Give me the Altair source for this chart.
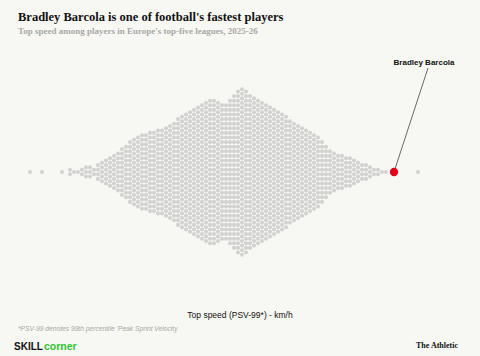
import altair as alt
import pandas as pd

# ---- data ----
speed_start = 26.0          # km/h, first column of the swarm
speed_step = 0.1            # km/h per column
player_counts = [1, 0, 0, 1, 0, 0, 0, 0, 1, 0,
                 2, 1, 1, 2, 3, 3, 2, 4, 5, 6,
                 7, 8, 9, 11, 12, 14, 15, 16, 17, 17,
                 18, 18, 19, 19, 20, 21, 22, 24, 25, 26,
                 27, 28, 29, 30, 31, 32, 32, 31, 30, 30,
                 32, 34, 36, 37, 36, 34, 33, 32, 31, 30,
                 29, 28, 27, 26, 25, 23, 22, 21, 20, 19,
                 18, 17, 16, 14, 12, 10, 9, 8, 8, 7,
                 7, 6, 5, 4, 4, 3, 2, 2, 1, 1,
                 0, 0, 0, 0, 0, 0, 0, 1]
highlight_name = ["Bradley Barcola"]
highlight_speed = [35.1]

title_text = "Bradley Barcola is one of football's fastest players"
subtitle_text = "Top speed among players in Europe's top-five leagues, 2025-26"
axis_title_text = "Top speed (PSV-99*) - km/h"
footnote_text = "*PSV-99 denotes 99th percentile 'Peak Sprint Velocity"
logo_left = "SKILL"
logo_right = "corner"
credit_text = "The Athletic"

speeds = [round(speed_start + i * speed_step, 1) for i in range(len(player_counts))]
bins = pd.DataFrame({"speed": speeds, "n": player_counts})
hl = pd.DataFrame({"speed": highlight_speed, "name": highlight_name, "off": [0]})

W, H = 480, 356
xscale = alt.Scale(domain=[25.25, 37.25], nice=False, zero=False)
yscale = alt.Scale(domain=[-40, 37.39], nice=False, zero=False)

swarm = (
    alt.Chart(bins)
    .transform_filter("datum.n > 0")
    .transform_calculate(k="sequence(0, datum.n)")
    .transform_flatten(["k"])
    .transform_calculate(off="datum.k - (datum.n - 1) / 2")
    .mark_circle(size=17, color="#d2d2d2", opacity=1)
    .encode(
        x=alt.X("speed:Q", scale=xscale, axis=None),
        y=alt.Y("off:Q", scale=yscale, axis=None),
    )
)

leader = (
    alt.Chart(hl)
    .mark_rule(color="#444444", strokeWidth=0.8)
    .encode(
        x=alt.X("speed:Q", scale=xscale, axis=None),
        y=alt.Y("off:Q", scale=yscale, axis=None),
        x2=alt.value(428),
        y2=alt.value(68),
    )
)

red = (
    alt.Chart(hl)
    .mark_circle(size=70, color="#e3001b", opacity=1)
    .encode(
        x=alt.X("speed:Q", scale=xscale, axis=None),
        y=alt.Y("off:Q", scale=yscale, axis=None),
    )
)

label = (
    alt.Chart(hl)
    .mark_text(font="Liberation Sans", fontWeight="bold", fontSize=8, color="#111111",
               align="center", baseline="bottom")
    .encode(text="name:N", x=alt.value(424), y=alt.value(67))
)


def txt(t, x, y, size, color="#111111", font="Liberation Sans", weight="normal",
        style="normal", align="left", baseline="alphabetic"):
    return (
        alt.Chart(pd.DataFrame({"t": [t]}))
        .mark_text(font=font, fontSize=size, color=color, fontWeight=weight,
                   fontStyle=style, align=align, baseline=baseline)
        .encode(text="t:N", x=alt.value(x), y=alt.value(y))
    )


texts = [
    txt(title_text, 18, 21, 12.5, font="Liberation Serif", weight="bold", color="#121212"),
    txt(subtitle_text, 18, 34, 9, font="Liberation Serif", weight="bold", color="#a8a8a8"),
    txt(axis_title_text, 240, 318, 8.5, align="center"),
    txt(footnote_text, 18, 331, 6.7, color="#a8a8a8", style="italic"),
    txt(logo_left, 14, 350, 10, weight="bold", font="Liberation Sans"),
    txt(logo_right, 44, 350, 10.5, weight="bold", color="#2fc42f", font="Liberation Sans"),
    txt(credit_text, 458, 348, 8, weight="bold", font="Liberation Serif", align="right"),
]

chart = (
    alt.layer(swarm, leader, red, label, *texts)
    .properties(width=W, height=H, autosize=alt.AutoSizeParams(type="none"), padding=0,
                background="#f7f7f3")
    .configure_view(stroke=None)
)

chart.save("out.html", embed_options={"renderer": "svg", "actions": False})
